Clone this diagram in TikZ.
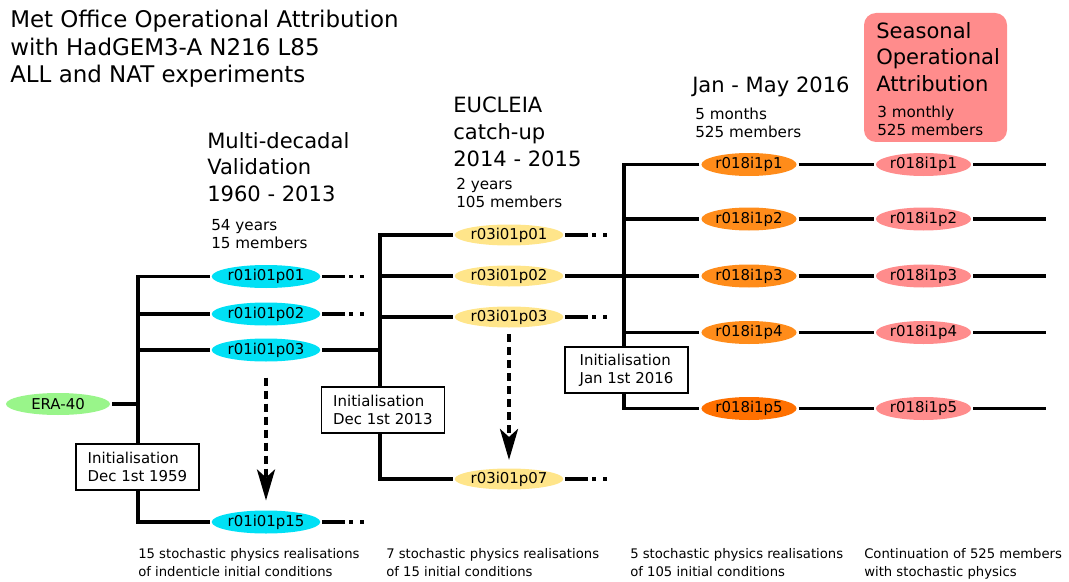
\documentclass[tikz,border=0pt]{standalone}
\usepackage{fontspec}
\setmainfont{DejaVu Sans}
\usetikzlibrary{arrows.meta,shapes.geometric}
\definecolor{cyanfill}{RGB}{0,224,245}
\definecolor{yelfill}{RGB}{255,229,138}
\definecolor{greenfill}{RGB}{153,245,138}
\definecolor{orangefill}{RGB}{255,140,26}
\definecolor{orangedark}{RGB}{255,112,0}
\definecolor{pinkfill}{RGB}{255,140,140}
\tikzset{
  ell/.style={ellipse, inner sep=0pt, outer sep=1.5pt, minimum width=105*0.75pt, minimum height=23*0.75pt, font=\fontsize{11.2}{13}\selectfont},
  ellcyan/.style={ell, fill=cyanfill},
  ellyel/.style={ell, fill=yelfill, minimum width=104*0.75pt, minimum height=21*0.75pt},
  ellgreen/.style={ell, fill=greenfill, minimum width=104*0.75pt, minimum height=22*0.75pt},
  ellorange/.style={ell, fill=orangefill, minimum width=95*0.75pt},
  ellpink/.style={ell, fill=pinkfill, minimum width=95*0.75pt},
  conn/.style={line width=2.7pt},
  tail/.style={conn, dash pattern=on 17.25pt off 3pt on 3pt off 5.25pt on 3pt off 20pt},
  initbox/.style={draw, line width=1.4pt, fill=white, minimum width=123*0.75pt, minimum height=46*0.75pt, align=left, inner sep=0pt, font=\fontsize{11.2}{13.5}\selectfont},
  titletext/.style={anchor=north west, inner sep=0pt, align=left, font=\fontsize{17.2}{20.5}\selectfont},
  bigtext/.style={anchor=north west, inner sep=0pt, align=left, font=\fontsize{15.8}{20}\selectfont},
  smalltext/.style={anchor=north west, inner sep=0pt, align=left, font=\fontsize{11.4}{13.5}\selectfont},
  foottext/.style={anchor=north west, inner sep=0pt, align=left, font=\fontsize{9.9}{13.5}\selectfont},
  dasharrow/.style={line width=3pt, dash pattern=on 6pt off 3.75pt, -{Stealth[length=23.25pt,width=13.5pt,inset=6pt]}}
}
\begin{document}
\begin{tikzpicture}[x=0.75pt,y=-0.75pt]
\useasboundingbox (0,0) rectangle (1069,581);

% seasonal box
\node[fill=pinkfill, rounded corners=9pt, minimum width=143*0.75pt, minimum height=129*0.75pt, inner sep=0pt] (seas) at (935.5,77.5) {};

% texts
\node[titletext] (title) at (10,10) {Met Office Operational Attribution\\with HadGEM3-A N216 L85\\ALL and NAT experiments};
\node[bigtext] (hdr1) at (207,132) {Multi-decadal\\Validation\\1960 - 2013};
\node[smalltext] (sub1) at (211,219.5) {54 years\\15 members};
\node[bigtext] (hdr2) at (453,97) {EUCLEIA\\catch-up\\2014 - 2015};
\node[smalltext] (sub2) at (456,177.5) {2 years\\105 members};
\node[bigtext] (hdr3) at (692,77) {Jan - May 2016};
\node[smalltext] (sub3) at (695,107.5) {5 months\\525 members};
\node[bigtext] (hdr4) at (876,22) {Seasonal\\Operational\\Attribution};
\node[smalltext] (sub4) at (877,105.5) {3 monthly\\525 members};

\node[foottext] (f1) at (138,548) {15 stochastic physics realisations\\of indenticle initial conditions};
\node[foottext] (f2) at (386,548) {7 stochastic physics realisations\\of 15 initial conditions};
\node[foottext] (f3) at (630,548) {5 stochastic physics realisations\\of 105 initial conditions};
\node[foottext] (f4) at (864,548) {Continuation of 525 members\\with stochastic physics};

% ellipses
\node[ellgreen] (era) at (58,404) {ERA-40};
\node[ellcyan] (c1) at (266,276.5) {r01i01p01};
\node[ellcyan] (c2) at (266,314) {r01i01p02};
\node[ellcyan] (c3) at (266,350) {r01i01p03};
\node[ellcyan] (c15) at (266,522) {r01i01p15};

\node[ellyel] (y1) at (509,235) {r03i01p01};
\node[ellyel] (y2) at (509,276) {r03i01p02};
\node[ellyel] (y3) at (509,317) {r03i01p03};
\node[ellyel] (y7) at (509,479) {r03i01p07};

\node[ellorange] (o1) at (749,164.5) {r018i1p1};
\node[ellorange] (o2) at (749,219) {r018i1p2};
\node[ellorange] (o3) at (749,276) {r018i1p3};
\node[ellorange] (o4) at (749,332.5) {r018i1p4};
\node[ellorange, fill=orangedark] (o5) at (749,408.5) {r018i1p5};

\node[ellpink] (p1) at (923.5,164.5) {r018i1p1};
\node[ellpink] (p2) at (923.5,219) {r018i1p2};
\node[ellpink] (p3) at (923.5,276) {r018i1p3};
\node[ellpink] (p4) at (923.5,332.5) {r018i1p4};
\node[ellpink] (p5) at (923.5,408.5) {r018i1p5};

% junction coordinates
\coordinate (j1) at (138,404);
\coordinate (j2) at (380,350);
\coordinate (j3) at (624,276);

% tree 1
\draw[conn] (era.east) -- (j1);
\draw[conn] (c1.west) -| (j1 |- c15) -- (c15.west);
\draw[conn] (j1 |- c2) -- (c2.west);
\draw[conn] (j1 |- c3) -- (c3.west);
\draw[tail] (c1.east) -- ++(42,0);
\draw[tail] (c2.east) -- ++(42,0);
\draw[tail] (c15.east) -- ++(42,0);
\draw[conn] (c3.east) -- (j2);

% tree 2
\draw[conn] (y1.west) -| (j2 |- y7) -- (y7.west);
\draw[conn] (j2 |- y2) -- (y2.west);
\draw[conn] (j2 |- y3) -- (y3.west);
\draw[tail] (y1.east) -- ++(42,0);
\draw[tail] (y3.east) -- ++(42,0);
\draw[tail] (y7.east) -- ++(42,0);
\draw[conn] (y2.east) -- (j3);

% tree 3
\draw[conn] (o1.west) -| (j3 |- o5) -- (o5.west);
\draw[conn] (j3 |- o2) -- (o2.west);
\draw[conn] (j3) -- (o3.west);
\draw[conn] (j3 |- o4) -- (o4.west);
\foreach \a/\b in {o1/p1,o2/p2,o3/p3,o4/p4,o5/p5}{
  \draw[conn] (\a.east) -- (\b.west);
  \draw[conn] (\b.east) -- ++(73,0);
}

% initialisation boxes
\node[initbox] (b1) at (137.5,467) {Initialisation\\Dec 1st 1959};
\node[initbox] (b2) at (383,410) {Initialisation\\Dec 1st 2013};
\node[initbox] (b3) at (626.5,370) {Initialisation\\Jan 1st 2016};

% dashed arrows
\draw[dasharrow, shorten <=10.5pt, shorten >=6pt] (c3) -- (c15);
\draw[dasharrow, shorten <=3.4pt, shorten >=4.9pt] (y3) -- (y7);
\end{tikzpicture}
\end{document}
